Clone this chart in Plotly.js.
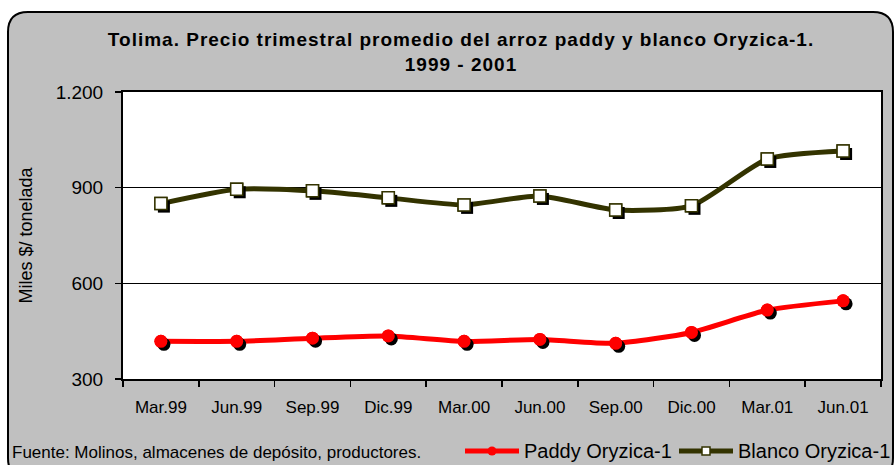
<!DOCTYPE html>
<html>
<head>
<meta charset="utf-8">
<script src="https://cdn.plot.ly/plotly-3.0.1.min.js"></script>
<style>
html,body{margin:0;padding:0;background:#fff;}
#chart{width:895px;height:465px;}
.gtitle{letter-spacing:1px;}
</style>
</head>
<body>
<div id="chart"></div>
<script>
const categories = ["Mar.99","Jun.99","Sep.99","Dic.99","Mar.00","Jun.00","Sep.00","Dic.00","Mar.01","Jun.01"];
const paddy = [418, 418, 428, 435, 418, 424, 412, 446, 516, 545];
const blanco = [850, 895, 890, 868, 846, 874, 830, 843, 990, 1015];
const seriesNames = ["Paddy Oryzica-1", "Blanco Oryzica-1"];
const yTickVals = [300, 600, 900, 1200];
const yTickText = ["300", "600", "900", "1.200"];

const W = 895, H = 465;
const M = {l: 123, r: 14, t: 92, b: 86};
const pw = W - M.l - M.r, ph = H - M.t - M.b;
const px2x = p => (p - M.l) / pw;
const px2y = p => (H - M.b - p) / ph;

const yRange = [300, 1200];
const xRange = [-0.5, categories.length - 0.5];
const shX = 3 * (xRange[1] - xRange[0]) / pw;
const shY = 3 * (yRange[1] - yRange[0]) / ph;

const RED = "#FF0000", OLIVE = "#333300";
const font = "Liberation Sans, Arial, sans-serif";

const circ = {symbol: "circle", size: 13, color: RED};
const sq = {symbol: "square", size: 12, color: "#FFFFFF", line: {color: OLIVE, width: 1.5}};

const traces = [
  {x: categories, y: paddy, name: seriesNames[0], mode: "lines+markers", type: "scatter",
   line: {color: RED, width: 5, shape: "spline", smoothing: 0.6}, marker: circ, xaxis: "x", yaxis: "y"},
  {x: categories, y: blanco, name: seriesNames[1], mode: "lines+markers", type: "scatter",
   line: {color: OLIVE, width: 5, shape: "spline", smoothing: 0.6}, marker: sq, xaxis: "x", yaxis: "y"},
  // marker shadows
  {x: categories, y: paddy, mode: "markers", type: "scatter", hoverinfo: "skip",
   marker: {symbol: "circle", size: 13, color: "#000"}, xaxis: "x2", yaxis: "y2"},
  {x: categories, y: blanco, mode: "markers", type: "scatter", hoverinfo: "skip",
   marker: {symbol: "square", size: 12, color: "#000"}, xaxis: "x2", yaxis: "y2"},
  // markers on top of shadows
  {x: categories, y: paddy, mode: "markers", type: "scatter", hoverinfo: "skip", marker: circ, xaxis: "x3", yaxis: "y3"},
  {x: categories, y: blanco, mode: "markers", type: "scatter", hoverinfo: "skip", marker: sq, xaxis: "x3", yaxis: "y3"}
];

const hidden = {visible: false, showgrid: false, zeroline: false, fixedrange: true};

const x0 = px2x(8), x1 = px2x(893), y0 = px2y(12), y1 = px2y(478);
const rx = 20 / pw, ry = 20 / ph;
const boxPath = `M ${x0+rx} ${y0} L ${x1-rx} ${y0} Q ${x1} ${y0} ${x1} ${y0-ry} L ${x1} ${y1+ry} Q ${x1} ${y1} ${x1-rx} ${y1} L ${x0+rx} ${y1} Q ${x0} ${y1} ${x0} ${y1+ry} L ${x0} ${y0-ry} Q ${x0} ${y0} ${x0+rx} ${y0} Z`;

// custom legend geometry (pixels)
const legY = 451;
const leg = [
  {lx0: 465, lx1: 519, tx: 522, color: RED},
  {lx0: 679, lx1: 733, tx: 736, color: OLIVE}
];

const shapes = [
  {type: "path", xref: "paper", yref: "paper", path: boxPath, layer: "below",
   fillcolor: "#C0C0C0", line: {color: "#000", width: 2}},
  {type: "rect", xref: "x domain", yref: "y domain", x0: 0, x1: 1, y0: 0, y1: 1, layer: "below",
   fillcolor: "#FFFFFF", line: {width: 0}}
];
leg.forEach((g, i) => {
  shapes.push({type: "line", xref: "paper", yref: "paper", x0: px2x(g.lx0), x1: px2x(g.lx1),
    y0: px2y(legY), y1: px2y(legY), line: {color: g.color, width: 5}});
  const cx = px2x((g.lx0 + g.lx1) / 2), cy = px2y(legY);
  if (i === 0) {
    shapes.push({type: "circle", xref: "paper", yref: "paper", xsizemode: "pixel", ysizemode: "pixel",
      xanchor: cx, yanchor: cy, x0: -4.5, x1: 4.5, y0: -4.5, y1: 4.5, fillcolor: RED, line: {width: 0}});
  } else {
    shapes.push({type: "rect", xref: "paper", yref: "paper", xsizemode: "pixel", ysizemode: "pixel",
      xanchor: cx, yanchor: cy, x0: -4, x1: 4, y0: -4, y1: 4, fillcolor: "#FFFFFF", line: {color: OLIVE, width: 1.5}});
  }
});

const annotations = [
  {text: "Fuente: Molinos, almacenes de depósito, productores.", xref: "paper", yref: "paper",
   x: px2x(10), xanchor: "left", y: px2y(452), yanchor: "middle", showarrow: false,
   font: {family: font, size: 17, color: "#000"}}
];
leg.forEach((g, i) => annotations.push({text: seriesNames[i], xref: "paper", yref: "paper",
  x: px2x(g.tx), xanchor: "left", y: px2y(legY), yanchor: "middle", showarrow: false,
  font: {family: font, size: 20, color: "#000"}}));

const layout = {
  width: W, height: H,
  margin: M,
  paper_bgcolor: "#FFFFFF",
  plot_bgcolor: "#FFFFFF",
  showlegend: false,
  font: {family: font, color: "#000", size: 15},
  title: {
    text: "<b>Tolima. Precio trimestral promedio del arroz paddy y blanco Oryzica-1.<br>1999 - 2001</b>",
    font: {family: font, size: 19, color: "#000"},
    x: 461 / W, xref: "container", xanchor: "center",
    y: 1 - 46 / H, yref: "container", yanchor: "top"
  },
  xaxis: {
    type: "category", range: xRange, fixedrange: true,
    tickson: "boundaries", ticks: "outside", ticklen: 6, tickwidth: 1.5, tickcolor: "#000",
    ticklabelstandoff: 12,
    showline: true, linecolor: "#000", linewidth: 2, mirror: true,
    showgrid: false, zeroline: false, automargin: false,
    tickfont: {family: font, size: 17, color: "#000"}
  },
  yaxis: {
    range: yRange, fixedrange: true,
    tickvals: yTickVals, ticktext: yTickText,
    ticks: "outside", ticklen: 6, tickwidth: 1.5, tickcolor: "#000",
    ticklabelstandoff: 8,
    showline: true, linecolor: "#000", linewidth: 2, mirror: true, automargin: false,
    showgrid: true, gridcolor: "#000", gridwidth: 1, zeroline: false,
    tickfont: {family: font, size: 19, color: "#000"},
    title: {text: "Miles $/ tonelada", font: {family: font, size: 18, color: "#000"}, standoff: 18}
  },
  xaxis2: Object.assign({type: "category", overlaying: "x", range: [xRange[0] - shX, xRange[1] - shX]}, hidden),
  yaxis2: Object.assign({overlaying: "y", range: [yRange[0] + shY, yRange[1] + shY]}, hidden),
  xaxis3: Object.assign({type: "category", overlaying: "x", range: xRange}, hidden),
  yaxis3: Object.assign({overlaying: "y", range: yRange}, hidden),
  shapes: shapes,
  annotations: annotations
};

Plotly.newPlot("chart", traces, layout, {displayModeBar: false, staticPlot: true});
</script>
</body>
</html>
